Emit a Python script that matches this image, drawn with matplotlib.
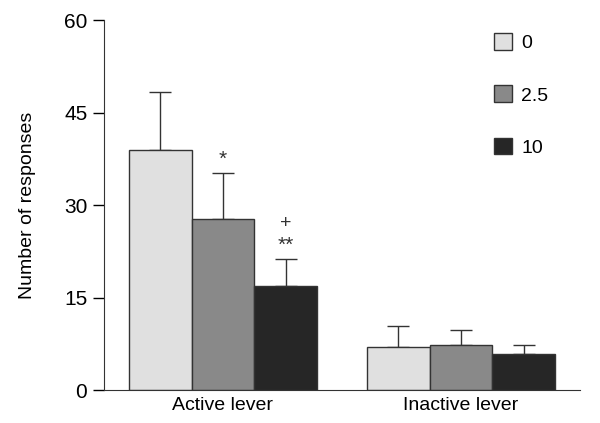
import matplotlib.pyplot as plt
from matplotlib.patches import Patch
import numpy as np

plt.rcParams['font.family'] = ['Liberation Sans', 'DejaVu Sans']

# data
groups = ['Active lever', 'Inactive lever']
doses = ['0', '2.5', '10']
means = {
    '0':   [38.9, 7.0],
    '2.5': [27.8, 7.35],
    '10':  [16.9, 5.85],
}
errs = {
    '0':   [9.4, 3.3],
    '2.5': [7.4, 2.35],
    '10':  [4.3, 1.5],
}
colors = ['#e0e0e0', '#898989', '#262626']
edge = '#333333'

fig = plt.figure(figsize=(6, 4.23), dpi=100)
ax = fig.add_axes([0.1733, 0.078, 0.7934, 0.8747])

x = np.arange(len(groups))
w = 0.264
for i, d in enumerate(doses):
    pos = x + (i - 1) * w
    ax.bar(pos, means[d], w, color=colors[i], edgecolor=edge, linewidth=1.0, zorder=2)
    ax.errorbar(pos, means[d], yerr=[np.zeros(len(groups)), errs[d]], fmt='none',
                ecolor=edge, elinewidth=1.0, capsize=8, capthick=1.0, zorder=1)

# significance marks
ax.text(x[0], 35.9, '*', ha='center', va='bottom', fontsize=15, color=edge)
ax.text(x[0] + w, 25.6, '+', ha='center', va='bottom', fontsize=14, color=edge)
ax.text(x[0] + w, 22.0, '**', ha='center', va='bottom', fontsize=15, color=edge)

ax.set_xlim(-0.5, 1.5)
ax.set_ylim(0, 60)
ax.set_yticks([0, 15, 30, 45, 60])
ax.set_xticks(x)
ax.set_xticklabels(groups, fontsize=14)
ax.tick_params(axis='x', length=0, pad=5)
ax.tick_params(axis='y', direction='out', length=8, width=1, labelsize=15, pad=4)
ax.set_ylabel('Number of responses', fontsize=14, labelpad=20)
for s in ['top', 'right']:
    ax.spines[s].set_visible(False)
for s in ['left', 'bottom']:
    ax.spines[s].set_color(edge)
ax.spines['bottom'].set_bounds(-0.5, 1.5)

handles = [Patch(facecolor=c, edgecolor=edge, linewidth=1.0) for c in colors]
ax.legend(handles, doses, loc='upper left', bbox_to_anchor=(0.803, 0.985),
          frameon=False, fontsize=14, handlelength=0.95, handleheight=0.95,
          handletextpad=0.45, labelspacing=1.7, borderaxespad=0)

fig.savefig('out.png', dpi=100)
